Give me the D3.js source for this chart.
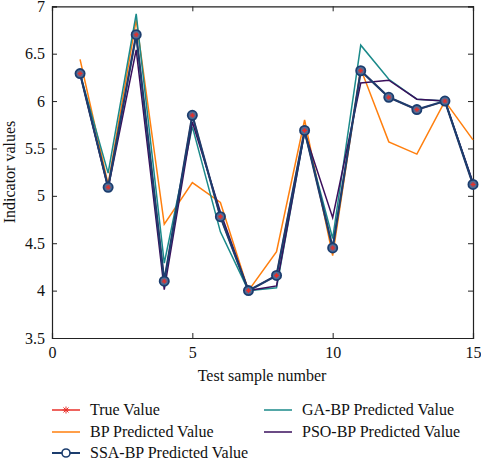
<!DOCTYPE html>
<html><head><meta charset="utf-8">
<script src="https://cdn.jsdelivr.net/npm/d3@7"></script>
<style>body{margin:0;background:#fff}svg{display:block}</style>
</head><body><svg id="c" width="481" height="461"></svg>
<script>
const samples = [1,2,3,4,5,6,7,8,9,10,11,12,13,14,15];
const trueValues = [6.29,5.09,6.70,4.10,5.85,4.78,4.00,4.16,5.69,4.45,6.32,6.04,5.91,6.00,5.12];
const bpValues   = [6.44,5.12,6.86,4.70,5.14,4.93,4.00,4.41,5.80,4.37,6.34,5.57,5.44,6.00,5.59];
const ssaValues  = [6.29,5.09,6.70,4.10,5.85,4.78,4.00,4.16,5.69,4.45,6.32,6.04,5.91,6.00,5.12];
const gaValues   = [6.29,5.24,6.92,4.29,5.73,4.62,4.00,4.03,5.67,4.55,6.59,6.23,6.02,6.00,5.13];
const psoValues  = [6.29,5.08,6.54,4.01,5.78,4.83,4.00,4.05,5.67,4.77,6.19,6.22,6.02,6.00,5.14];
const xTicks = [0,5,10,15];
const yTicks = [3.5,4,4.5,5,5.5,6,6.5,7];
const legendNames = ["True Value","BP Predicted Value","SSA-BP Predicted Value","GA-BP Predicted Value","PSO-BP Predicted Value"];

const FONT = "'Liberation Serif', 'Times New Roman', Times, serif";
const svg = d3.select("#c");
const x = d3.scaleLinear().domain([0,15]).range([52,473]);
const y = d3.scaleLinear().domain([3.5,7]).range([338,6.3]);
const axisColor = "#222";

const gx = svg.append("g").attr("transform","translate(0,338)")
  .call(d3.axisBottom(x).tickValues(xTicks).tickSize(-5).tickPadding(9).tickFormat(d3.format("d")));
const gy = svg.append("g").attr("transform","translate(52,0)")
  .call(d3.axisLeft(y).tickValues(yTicks).tickSize(-5).tickPadding(7).tickFormat(d=>String(d)));
const gt = svg.append("g").attr("transform","translate(0,6.3)")
  .call(d3.axisTop(x).tickValues(xTicks).tickSize(-5).tickFormat(""));
const gr = svg.append("g").attr("transform","translate(473,0)")
  .call(d3.axisRight(y).tickValues(yTicks).tickSize(-5).tickFormat(""));
[gx,gy,gt,gr].forEach(g=>{
  g.attr("font-family",null).attr("font-size",null);
  g.select(".domain").attr("stroke",axisColor).attr("stroke-width",1.2);
  g.selectAll(".tick line").attr("stroke",axisColor);
  g.selectAll("text").style("font-family",FONT).style("font-size","16px").attr("fill","#111");
});

svg.append("text").attr("x",262).attr("y",381).attr("text-anchor","middle")
  .style("font-family",FONT).style("font-size","16px").attr("fill","#111").text("Test sample number");
svg.append("text").attr("transform","translate(15,172) rotate(-90)").attr("text-anchor","middle")
  .style("font-family",FONT).style("font-size","16px").attr("fill","#111").text("Indicator values");

const line = d3.line().x((d,i)=>x(samples[i])).y(d=>y(d));
const colors = {true:"#e8302a", bp:"#ff7f0e", ssa:"#1c3d6e", ga:"#1b8a8a", pso:"#3a0f5c"};

svg.append("path").datum(trueValues).attr("d",line).attr("fill","none").attr("stroke",colors.true).attr("stroke-width",1.5);
svg.append("path").datum(bpValues).attr("d",line).attr("fill","none").attr("stroke",colors.bp).attr("stroke-width",1.5);
svg.append("path").datum(gaValues).attr("d",line).attr("fill","none").attr("stroke",colors.ga).attr("stroke-width",1.5);
svg.append("path").datum(psoValues).attr("d",line).attr("fill","none").attr("stroke",colors.pso).attr("stroke-width",1.5);
svg.append("path").datum(ssaValues).attr("d",line).attr("fill","none").attr("stroke",colors.ssa).attr("stroke-width",2.2);

svg.append("g").selectAll("circle").data(ssaValues).join("circle")
  .attr("cx",(d,i)=>x(samples[i])).attr("cy",d=>y(d)).attr("r",4.6)
  .attr("fill","#4a6f9a").attr("stroke",colors.ssa).attr("stroke-width",1.8);

function asterisk(g, cx, cy, r, color){
  const a = g.append("g").attr("transform",`translate(${cx},${cy})`).attr("stroke",color).attr("stroke-width",1);
  a.append("line").attr("x1",-r).attr("x2",r).attr("y1",0).attr("y2",0);
  a.append("line").attr("x1",0).attr("x2",0).attr("y1",-r).attr("y2",r);
  const k = r*0.72;
  a.append("line").attr("x1",-k).attr("x2",k).attr("y1",-k).attr("y2",k);
  a.append("line").attr("x1",-k).attr("x2",k).attr("y1",k).attr("y2",-k);
}
const tg = svg.append("g");
trueValues.forEach((d,i)=>asterisk(tg, x(samples[i]), y(d), 2.6, colors.true));

const legendCols = [[0,1,2],[3,4]];
const legColX = [52,264];
const legRowY = [410,432,453];
const legColors = [colors.true, colors.bp, colors.ssa, colors.ga, colors.pso];
const lg = svg.append("g");
legendCols.forEach((col,ci)=>{
  col.forEach((idx,ri)=>{
    const x0 = legColX[ci], yy = legRowY[ri];
    lg.append("line").attr("x1",x0).attr("x2",x0+28).attr("y1",yy).attr("y2",yy)
      .attr("stroke",legColors[idx]).attr("stroke-width", idx===2?2:1.5);
    if(idx===0) asterisk(lg, x0+14, yy, 3.5, colors.true);
    if(idx===2) lg.append("circle").attr("cx",x0+14).attr("cy",yy).attr("r",4).attr("fill","#fff").attr("stroke",colors.ssa).attr("stroke-width",1.6);
    lg.append("text").attr("x",x0+38).attr("y",yy+5).style("font-family",FONT).style("font-size","16px").attr("fill","#111").text(legendNames[idx]);
  });
});
</script></body></html>
